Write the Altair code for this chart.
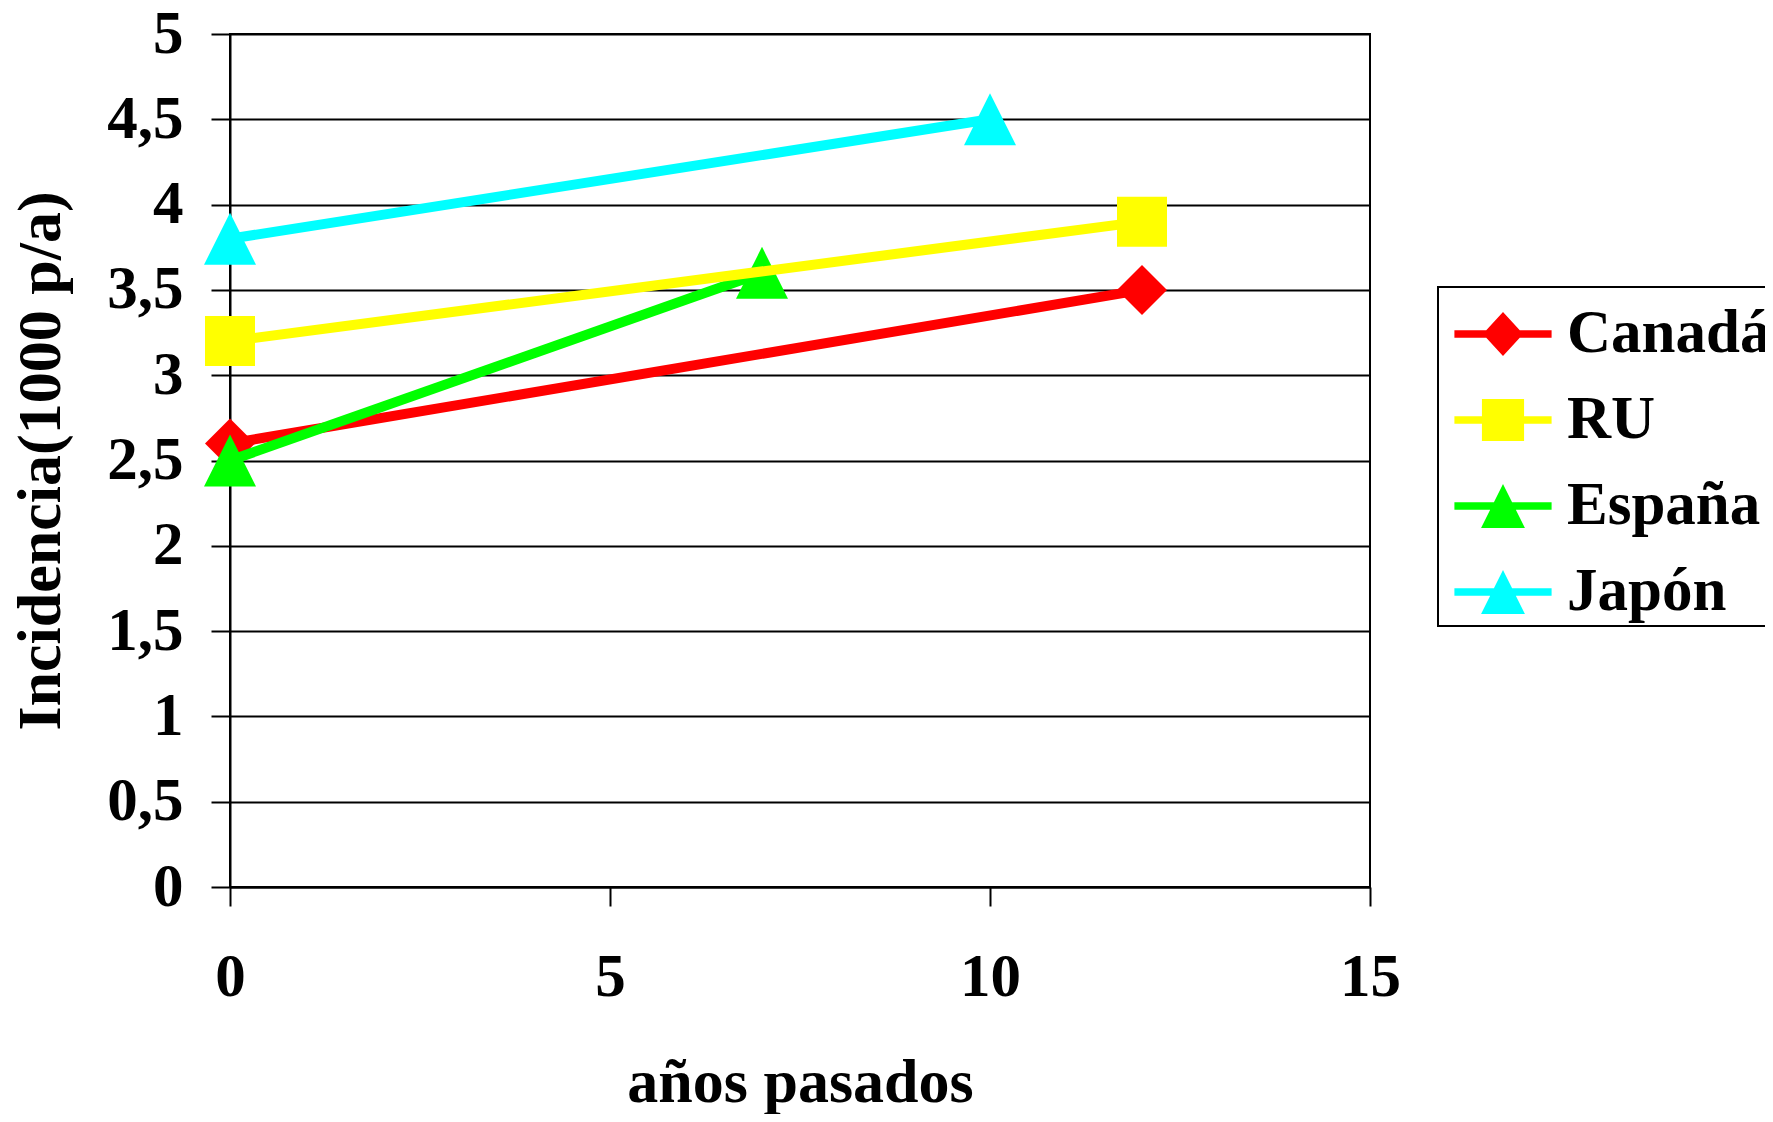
import altair as alt
import pandas as pd

# ---- data ----
countries = ["Canadá", "RU", "España", "Japón"]
colors = ["#FF0000", "#FFFF00", "#00FF00", "#00FFFF"]

canada_x = [0, 12]
canada_y = [2.6, 3.5]
ru_x = [0, 12]
ru_y = [3.2, 3.9]
espana_x = [0, 7]
espana_y = [2.5, 3.6]
japon_x = [0, 10]
japon_y = [3.8, 4.5]

x_ticks = [0, 5, 10, 15]
y_ticks = [0, 0.5, 1, 1.5, 2, 2.5, 3, 3.5, 4, 4.5, 5]

x_title = "años pasados"
y_title = "Incidencia(1000 p/a)"

# drawing order of the series (as stacked in the reference)
draw_order = ["Canadá", "España", "RU", "Japón"]

# marker shapes in the plot
TRI = "M0,-1L1,1L-1,1Z"
plot_shapes = {"Canadá": "diamond", "RU": "square", "España": TRI, "Japón": TRI}
plot_sizes = {"Canadá": 2500, "RU": 2500, "España": 2704, "Japón": 2704}
# legend symbols: line with marker on top
leg_line = "M-1.13,-0.085L1.13,-0.085L1.13,0.085L-1.13,0.085Z"
legend_shapes = [
    leg_line + "M-0.47,0L0,-0.51L0.47,0L0,0.51Z",
    leg_line + "M-0.49,-0.49L0.49,-0.49L0.49,0.49L-0.49,0.49Z",
    leg_line + "M0,-0.51L0.51,0.51L-0.51,0.51Z",
    leg_line + "M0,-0.51L0.51,0.51L-0.51,0.51Z",
]

rows = []
for name, xs, ys in [("Canadá", canada_x, canada_y), ("RU", ru_x, ru_y),
                     ("España", espana_x, espana_y), ("Japón", japon_x, japon_y)]:
    for xv, yv in zip(xs, ys):
        rows.append({"country": name, "x": xv, "y": yv})
df = pd.DataFrame(rows)
color_of = dict(zip(countries, colors))

FONT = "Liberation Serif"
FS = 61

xscale = alt.Scale(domain=[0, 15], nice=False, zero=False)
yscale = alt.Scale(domain=[0, 5], nice=False)

xenc = alt.X("x:Q", scale=xscale, axis=alt.Axis(
    values=x_ticks, format="d", title=x_title, grid=False, tickSize=19, labelPadding=41,
    labelFlush=False, titlePadding=45))
yenc = alt.Y("y:Q", scale=yscale, axis=alt.Axis(
    values=y_ticks, title=y_title, grid=True, tickSize=19, labelPadding=28,
    labelExpr="replace(toString(datum.value), '.', ',')", titlePadding=34))

base = alt.Chart(df)

layers = []
for i, name in enumerate(draw_order):
    sub = base.transform_filter(alt.datum.country == name)
    line = sub.mark_line(strokeWidth=10, color=color_of[name]).encode(
        x=xenc if i == 0 else alt.X("x:Q"),
        y=yenc if i == 0 else alt.Y("y:Q"),
    )
    pts = sub.mark_point(filled=True, opacity=1, strokeWidth=0, color=color_of[name],
                         shape=plot_shapes[name], size=plot_sizes[name]).encode(
        x="x:Q", y="y:Q",
    )
    layers += [line, pts]

leg = alt.Legend(
    title=None, orient="none", legendX=1208, legendY=253,
    padding=4, symbolSize=7396, symbolStrokeWidth=0, symbolOpacity=1,
    symbolOffset=18, labelOffset=21, rowPadding=13,
    labelFont=FONT, labelFontSize=FS, labelFontWeight="bold", labelColor="black",
    strokeColor="black", labelLimit=400,
)

legend_layer = base.transform_filter("false").mark_point(filled=True, opacity=1).encode(
    x="x:Q", y="y:Q",
    color=alt.Color("country:N", scale=alt.Scale(domain=countries, range=colors), legend=leg),
    shape=alt.Shape("country:N", scale=alt.Scale(domain=countries, range=legend_shapes), legend=leg),
)
layers.append(legend_layer)

chart = alt.layer(*layers).properties(
    width=1140, height=853,
    autosize=alt.AutoSizeParams(type="none"),
    padding={"left": 222, "top": 26, "right": 395, "bottom": 227},
    background="white",
).configure_view(
    stroke="black", strokeWidth=2
).configure_axis(
    labelFont=FONT, labelFontSize=FS, labelFontWeight="bold", labelColor="black",
    titleFont=FONT, titleFontSize=FS + 1, titleFontWeight="bold", titleColor="black",
    domainColor="black", domainWidth=2, tickColor="black", tickWidth=2,
    gridColor="black", gridWidth=2, gridOpacity=1,
).configure_legend(
    strokeWidth=2
)

chart.save("out.html", embed_options={"renderer": "svg", "actions": False})
